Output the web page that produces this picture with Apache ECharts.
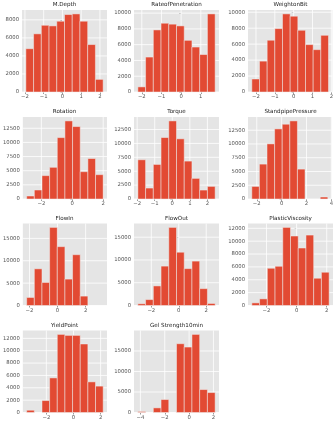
<!DOCTYPE html>
<html><head><meta charset="utf-8">
<script src="https://cdn.jsdelivr.net/npm/echarts@6/dist/echarts.min.js"></script>
<style>html,body{margin:0;padding:0;background:#fff}#c{width:336px;height:423px}</style>
</head><body><div id="c"></div>
<script>
// ---- data ----
const titles = ["M.Depth","RateofPenetration","WeightonBit","Rotation","Torque","StandpipePressure","FlowIn","FlowOut","PlasticViscosity","YieldPoint","Gel Strength10min"];

const mDepthRange = [-1.95, 2.17];
const mDepthCounts = [4800, 6450, 7400, 7330, 7850, 8590, 8660, 7850, 5260, 1400];
const mDepthXTicks = [-2, -1, 0, 1, 2];
const mDepthYTicks = [0, 2000, 4000, 6000, 8000];

const ropRange = [-2.2, 1.73];
const ropCounts = [650, 4430, 7870, 8720, 8600, 8380, 6550, 5700, 4750, 9900];
const ropXTicks = [-2, -1, 0, 1];
const ropYTicks = [0, 2000, 4000, 6000, 8000, 10000];

const wobRange = [-2.22, 1.85];
const wobCounts = [1630, 3870, 6490, 7950, 9790, 9500, 7740, 5940, 5310, 7110];
const wobXTicks = [-2, -1, 0, 1, 2];
const wobYTicks = [0, 2000, 4000, 6000, 8000, 10000];

const rotRange = [-2.95, 2.0];
const rotCounts = [530, 1590, 4130, 5600, 10850, 13800, 12800, 4830, 7150, 4300];
const rotXTicks = [-2, 0, 2];
const rotYTicks = [0, 2500, 5000, 7500, 10000, 12500];

const torqueRange = [-1.96, 2.44];
const torqueCounts = [7060, 1970, 6220, 11060, 14050, 10830, 6820, 3710, 1610, 2270];
const torqueXTicks = [-2, -1, 0, 1, 2];
const torqueYTicks = [0, 2500, 5000, 7500, 10000, 12500];

const sppRange = [-2.4, 3.72];
const sppCounts = [2290, 6340, 10020, 12740, 13590, 14190, 5430, 0, 0, 360];
const sppXTicks = [-2, 0, 2, 4];
const sppYTicks = [0, 2500, 5000, 7500, 10000, 12500];

const flowInRange = [-2.2, 3.25];
const flowInCounts = [1800, 8200, 5150, 17450, 13150, 5900, 11350, 2100, 0, 0];
const flowInXTicks = [-2, 0, 2];
const flowInYTicks = [0, 5000, 10000, 15000];

const flowOutRange = [-2.98, 2.65];
const flowOutCounts = [380, 1300, 4300, 8650, 17150, 11700, 8100, 9750, 3700, 450];
const flowOutXTicks = [-2, 0, 2];
const flowOutYTicks = [0, 5000, 10000, 15000];

const pvRange = [-2.97, 2.16];
const pvCounts = [410, 1030, 5790, 6100, 12140, 10800, 8940, 10950, 4240, 5170];
const pvXTicks = [-2, 0, 2];
const pvYTicks = [0, 2000, 4000, 6000, 8000, 10000, 12000];

const ypRange = [-3.45, 2.19];
const ypCounts = [370, 0, 1930, 5600, 12640, 12480, 12480, 11090, 4960, 4270];
const ypXTicks = [-2, 0, 2];
const ypYTicks = [0, 2000, 4000, 6000, 8000, 10000, 12000];

const gelRange = [-4.21, 2.14];
const gelCounts = [240, 0, 1130, 3160, 0, 16770, 15960, 19040, 5590, 4860];
const gelXTicks = [-4, -2, 0, 2];
const gelYTicks = [0, 5000, 10000, 15000];

const panels = [
  [mDepthRange, mDepthCounts, mDepthXTicks, mDepthYTicks],
  [ropRange, ropCounts, ropXTicks, ropYTicks],
  [wobRange, wobCounts, wobXTicks, wobYTicks],
  [rotRange, rotCounts, rotXTicks, rotYTicks],
  [torqueRange, torqueCounts, torqueXTicks, torqueYTicks],
  [sppRange, sppCounts, sppXTicks, sppYTicks],
  [flowInRange, flowInCounts, flowInXTicks, flowInYTicks],
  [flowOutRange, flowOutCounts, flowOutXTicks, flowOutYTicks],
  [pvRange, pvCounts, pvXTicks, pvYTicks],
  [ypRange, ypCounts, ypXTicks, ypYTicks],
  [gelRange, gelCounts, gelXTicks, gelYTicks]
];

// ---- layout ----
const colLeft = [22, 134, 248];
const colW = 85;
const rowTop = [10, 117, 223.5, 330.5];
const rowH = 82;
const FONT = 'DejaVu Sans';
const TICK_FS = 5.3;
const TITLE_FS = 5.6;
const fmt = v => String(v).replace('-', '\u2212');

const grid = [], xAxis = [], yAxis = [], series = [], title = [];
panels.forEach((p, i) => {
  const [range, counts, xt, yt] = p;
  const r = Math.floor(i / 3), c = i % 3;
  const left = colLeft[c], top = rowTop[r];
  grid.push({left: left, top: top, width: colW, height: rowH, backgroundColor: '#E5E5E5', show: true, borderWidth: 0});
  const span = range[1] - range[0];
  const n = counts.length;
  const bw = span / n;
  const xmin = range[0] - 0.05 * span, xmax = range[1] + 0.05 * span;
  xAxis.push({
    type: 'value', gridIndex: i, min: xmin, max: xmax,
    axisLine: {show: false},
    axisTick: {show: true, length: 2, customValues: xt, lineStyle: {color: '#555555', width: 0.6}},
    axisLabel: {customValues: xt, formatter: fmt, fontSize: TICK_FS, color: '#555555', fontFamily: FONT, margin: 2.5},
    splitLine: {show: false}
  });
  const ymax = Math.max.apply(null, counts) * 1.05;
  yAxis.push({
    type: 'value', gridIndex: i, min: 0, max: ymax,
    axisLine: {show: false},
    axisTick: {show: true, length: 2, customValues: yt, lineStyle: {color: '#555555', width: 0.6}},
    axisLabel: {customValues: yt, formatter: fmt, fontSize: TICK_FS, color: '#555555', fontFamily: FONT, margin: 3},
    splitLine: {show: false}
  });
  // grid lines (white) at tick values
  series.push({
    type: 'custom', xAxisIndex: i, yAxisIndex: i, silent: true, animation: false, z: 1,
    data: xt.map(v => [v, 0]).concat(yt.map(v => [NaN, v])),
    renderItem: function (params, api) {
      const xv = api.value(0), yv = api.value(1);
      const cs = params.coordSys;
      if (!isNaN(xv)) {
        const px = api.coord([xv, 0])[0];
        return {type: 'line', shape: {x1: px, y1: cs.y, x2: px, y2: cs.y + cs.height}, style: {stroke: '#FFFFFF', lineWidth: 0.8}};
      }
      const py = api.coord([xmin, yv])[1];
      return {type: 'line', shape: {x1: cs.x, y1: py, x2: cs.x + cs.width, y2: py}, style: {stroke: '#FFFFFF', lineWidth: 0.8}};
    }
  });
  const data = counts.map((v, k) => [range[0] + k * bw, range[0] + (k + 1) * bw, v]);
  series.push({
    type: 'custom', xAxisIndex: i, yAxisIndex: i, data: data, silent: true, animation: false, z: 2,
    encode: {x: [0, 1], y: 2},
    renderItem: function (params, api) {
      const x0 = api.value(0), x1 = api.value(1), v = api.value(2);
      if (!v) return null;
      const a = api.coord([x0, v]), b = api.coord([x1, 0]);
      return {type: 'rect', shape: {x: a[0], y: a[1], width: b[0] - a[0], height: b[1] - a[1]},
        style: {fill: '#E24A33', stroke: '#EEEEEE', lineWidth: 0.5}};
    }
  });
  title.push({text: titles[i], left: left + colW / 2, top: top - 8, textAlign: 'center', padding: 0,
    textStyle: {fontSize: TITLE_FS, fontWeight: 'normal', color: '#222', fontFamily: FONT}});
});

const chart = echarts.init(document.getElementById('c'), null, {renderer: 'canvas'});
chart.setOption({animation: false, backgroundColor: '#fff', title: title, grid: grid, xAxis: xAxis, yAxis: yAxis, series: series});
</script>
</body></html>
